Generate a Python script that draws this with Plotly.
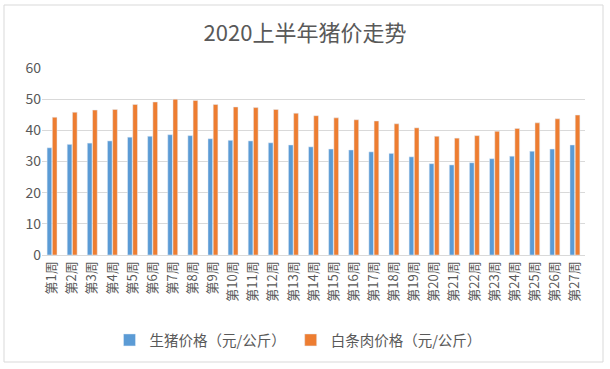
import plotly.graph_objects as go

weeks = [f"第{i}周" for i in range(1, 28)]
live_pig = [34.4, 35.5, 35.9, 36.6, 37.8, 38.1, 38.6, 38.3, 37.3, 36.8, 36.6, 36.0, 35.3, 34.7,
            34.0, 33.7, 33.1, 32.6, 31.5, 29.3, 28.9, 29.6, 30.9, 31.7, 33.3, 34.0, 35.3]
pork = [44.2, 45.8, 46.5, 46.7, 48.3, 49.1, 50.0, 49.6, 48.3, 47.5, 47.3, 46.7, 45.5, 44.7,
        44.0, 43.4, 43.0, 42.1, 40.8, 38.1, 37.5, 38.3, 39.7, 40.6, 42.4, 43.7, 44.9]
names = ["生猪价格（元/公斤）", "白条肉价格（元/公斤）"]
title = "2020上半年猪价走势"
yticks = [0, 10, 20, 30, 40, 50, 60]

font = "Noto Sans CJK SC"
fig = go.Figure()
fig.add_trace(go.Bar(x=weeks, y=live_pig, name=names[0], marker_color="#5B9BD5"))
fig.add_trace(go.Bar(x=weeks, y=pork, name=names[1], marker_color="#ED7D31"))

W, H = 610, 369
L, R, T, B = 42, 25, 68, 114
pw, ph = W - L - R, H - T - B

def px(x):
    return (x - L) / pw

def py(y):
    return (H - B - y) / ph

fig.update_layout(
    width=W, height=H,
    margin=dict(l=L, r=R, t=T, b=B, autoexpand=False),
    paper_bgcolor="white", plot_bgcolor="white",
    font=dict(family=font, color="#595959"),
    title=dict(text=title, x=0.5, xanchor="center", y=1 - 33 / H, yanchor="middle",
               font=dict(size=22, color="#595959", family=font)),
    barmode="group", bargap=0.48, bargroupgap=0.1,
    showlegend=True,
    legend=dict(orientation="h", x=px(298), xanchor="center", y=py(340), yanchor="middle",
                font=dict(size=14.5, color="#595959"), itemwidth=30,
                traceorder="normal"),
    xaxis=dict(tickangle=-90, tickfont=dict(size=13, color="#595959"), showgrid=False,
               showline=True, linecolor="#D9D9D9", ticks="", automargin=False),
    yaxis=dict(range=[0, 60], tickvals=yticks, showgrid=True, gridcolor="#D9D9D9",
               zeroline=False, tickfont=dict(size=14, color="#595959"), ticks="",
               showline=False, automargin=False),
    shapes=[dict(type="rect", xref="paper", yref="paper",
                 x0=px(4), x1=px(603), y0=py(362), y1=py(5),
                 line=dict(color="#D9D9D9", width=1))],
)

fig.write_html("out.html", config={"displayModeBar": False},
               post_script="document.body.style.margin='0';")
